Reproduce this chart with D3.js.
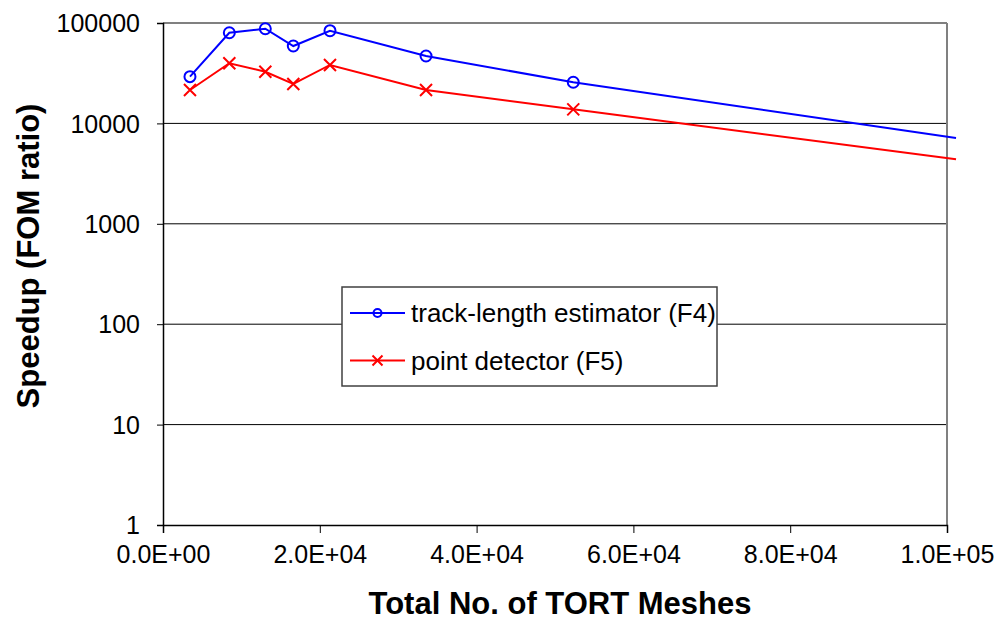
<!DOCTYPE html>
<html>
<head>
<meta charset="utf-8">
<script src="https://cdn.jsdelivr.net/npm/d3@7"></script>
<style>
  body { margin: 0; background: #fff; }
  text { font-family: "Liberation Sans", Arial, sans-serif; }
</style>
</head>
<body>
<div id="chart"></div>
<script>
// mesh counts (x) and speedups
const meshes = [3440, 8460, 13050, 16620, 21300, 33550, 52330, 101150];
const trackLength = [29200, 80000, 87700, 59000, 83800, 46900, 25700, 7160];
const pointDetector = [21500, 39700, 32700, 24700, 38200, 21500, 13800, 4390];
const seriesNames = ['track-length estimator (F4)', 'point detector (F5)'];
const xTicks = [0, 20000, 40000, 60000, 80000, 100000];
const yTicks = [1, 10, 100, 1000, 10000, 100000];

const W = 1001, H = 628;
let margin = { left: 163, right: 54, top: 23, bottom: 103 };
let width = W - margin.left - margin.right;
let height = H - margin.top - margin.bottom;

let xScale = d3.scaleLinear().domain([0, 100000]).range([0, width]);
let yScale = d3.scaleLog().domain([1, 100000]).range([height, 0]);

function sci(v) {
    if (v === 0) return '0.0E+00';
    let e = Math.floor(Math.log10(v));
    let m = v / Math.pow(10, e);
    return m.toFixed(1) + 'E+' + String(e).padStart(2, '0');
}

let svg = d3.select('#chart').append('svg')
    .attr('width', W)
    .attr('height', H);

let g = svg.append('g')
    .attr('transform', 'translate(' + margin.left + ',' + margin.top + ')');

// horizontal grid
g.append('g')
    .selectAll('line')
    .data(yTicks.slice(1, -1))
    .enter().append('line')
    .attr('x1', 0).attr('x2', width)
    .attr('y1', d => yScale(d)).attr('y2', d => yScale(d))
    .attr('stroke', '#000').attr('stroke-width', 1);

// top & right border (gray)
g.append('line').attr('x1', 0).attr('x2', width).attr('y1', 0).attr('y2', 0)
    .attr('stroke', '#808080').attr('stroke-width', 2);
g.append('line').attr('x1', width).attr('x2', width).attr('y1', 0).attr('y2', height)
    .attr('stroke', '#808080').attr('stroke-width', 2);

let yAxis = d3.axisLeft(yScale).tickValues(yTicks).tickFormat(d3.format('d')).tickSize(6).tickPadding(17);
let xAxis = d3.axisBottom(xScale).tickValues(xTicks).tickFormat(sci).tickSize(8).tickPadding(12);

let ya = g.append('g').call(yAxis);
let xa = g.append('g').attr('transform', 'translate(0,' + height + ')').call(xAxis);
[ya, xa].forEach(a => {
    a.select('.domain').attr('stroke', '#000').attr('stroke-width', 1.5);
    a.selectAll('.tick line').attr('stroke', '#000');
    a.selectAll('text').attr('font-size', 25).attr('fill', '#000');
});
ya.selectAll('text').attr('dy', '0.35em');

let series = [
    { name: seriesNames[0], values: trackLength, color: '#0000ff', marker: 'circle' },
    { name: seriesNames[1], values: pointDetector, color: '#ff0000', marker: 'cross' }
];

let line = d3.line()
    .x((d, i) => xScale(meshes[i]))
    .y(d => yScale(d));

function drawMarker(sel, type, color) {
    if (type === 'circle') {
        sel.append('circle').attr('r', 5.5)
            .attr('fill', 'none').attr('stroke', color).attr('stroke-width', 2);
    } else {
        sel.append('path').attr('d', 'M-6,-6L6,6M-6,6L6,-6')
            .attr('fill', 'none').attr('stroke', color).attr('stroke-width', 2);
    }
}

series.forEach(s => {
    g.append('path')
        .attr('fill', 'none')
        .attr('stroke', s.color)
        .attr('stroke-width', 2)
        .attr('d', line(s.values));
    s.values.forEach((v, i) => {
        if (meshes[i] > 100000) return;
        let m = g.append('g')
            .attr('transform', 'translate(' + xScale(meshes[i]) + ',' + yScale(v) + ')');
        drawMarker(m, s.marker, s.color);
    });
});

// legend
let lg = svg.append('g').attr('transform', 'translate(342,287)');
lg.append('rect').attr('width', 375).attr('height', 99)
    .attr('fill', '#fff').attr('stroke', '#404040').attr('stroke-width', 1.5);
series.forEach((s, i) => {
    let row = lg.append('g').attr('transform', 'translate(0,' + (26 + i * 47.5) + ')');
    row.append('line').attr('x1', 8).attr('x2', 63).attr('y1', 0).attr('y2', 0)
        .attr('stroke', s.color).attr('stroke-width', 2);
    let m = row.append('g').attr('transform', 'translate(35.5,0)');
    if (s.marker === 'circle') {
        m.append('circle').attr('r', 4).attr('fill', 'none').attr('stroke', s.color).attr('stroke-width', 2);
    } else {
        m.append('path').attr('d', 'M-5,-5L5,5M-5,5L5,-5').attr('fill', 'none')
            .attr('stroke', s.color).attr('stroke-width', 2);
    }
    row.append('text').attr('x', 69).attr('y', 0).attr('dy', '0.35em')
        .attr('font-size', 26).attr('fill', '#000').text(s.name);
});

// axis titles
svg.append('text')
    .attr('x', 560).attr('y', 614)
    .attr('text-anchor', 'middle')
    .attr('font-size', 31).attr('font-weight', 'bold')
    .text('Total No. of TORT Meshes');

svg.append('text')
    .attr('transform', 'translate(39,256) rotate(-90)')
    .attr('text-anchor', 'middle')
    .attr('font-size', 31).attr('font-weight', 'bold')
    .text('Speedup (FOM ratio)');
</script>
</body>
</html>
